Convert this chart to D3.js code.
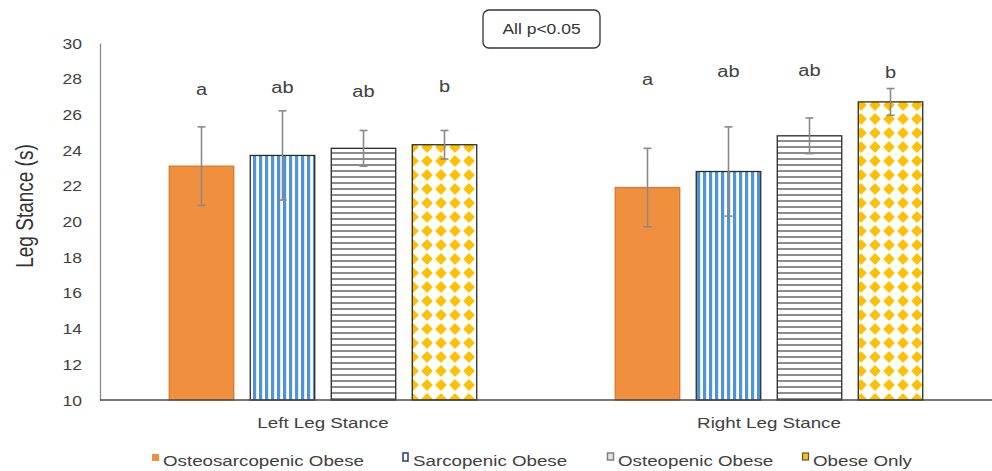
<!DOCTYPE html>
<html>
<head>
<meta charset="utf-8">
<script src="https://cdn.jsdelivr.net/npm/d3@7"></script>
<style>
  html, body { margin: 0; padding: 0; background: #ffffff; }
  svg { display: block; font-family: "Liberation Sans", Arial, sans-serif; }
</style>
</head>
<body>
<svg id="chart" width="992" height="471"></svg>
<script>
// ---------------- data ----------------
const categories = ["Left Leg Stance", "Right Leg Stance"];
const seriesNames = ["Osteosarcopenic Obese", "Sarcopenic Obese", "Osteopenic Obese", "Obese Only"];
const osteosarcopenicObese = [23.1, 21.9];
const sarcopenicObese      = [23.7, 22.8];
const osteopenicObese      = [24.1, 24.8];
const obeseOnly            = [24.3, 26.7];
const osteosarcopenicErr = [2.2, 2.2];
const sarcopenicErr      = [2.5, 2.5];
const osteopenicErr      = [1.0, 1.0];
const obeseOnlyErr       = [0.8, 0.75];
const leftLetters  = ["a", "ab", "ab", "b"];
const rightLetters = ["a", "ab", "ab", "b"];
const leftLetterAt  = [27.06, 27.2, 26.99, 27.26];
const rightLetterAt = [27.65, 28.1, 28.15, 28.04];
const yTicks = [10, 12, 14, 16, 18, 20, 22, 24, 26, 28, 30];
const yTitle = "Leg Stance (s)";
const noteText = "All p<0.05";

// -------------- build table --------------
const values = [osteosarcopenicObese, sarcopenicObese, osteopenicObese, obeseOnly];
const errs = [osteosarcopenicErr, sarcopenicErr, osteopenicErr, obeseOnlyErr];
const letters = [leftLetters, rightLetters];
const letterAt = [leftLetterAt, rightLetterAt];
const rows = [];
categories.forEach((c, ci) => {
  seriesNames.forEach((s, si) => {
    rows.push({cat: c, ci, series: s, si, v: values[si][ci], e: errs[si][ci],
               letter: letters[ci][si], la: letterAt[ci][si]});
  });
});

// -------------- layout --------------
const SX = 1.25; // horizontal stretch of the source image text
const svg = d3.select("#chart");
const x0 = d3.scaleBand().domain(categories).range([100, 992]).paddingInner(0).paddingOuter(0);
const x1 = d3.scaleBand().domain(seriesNames).range([0, x0.bandwidth()]).paddingInner(0.204).paddingOuter(0.855);
const y = d3.scaleLinear().domain([10, 30]).range([400, 43]);

// patterns
const defs = svg.append("defs");
const pBlue = defs.append("pattern").attr("id", "pBlue").attr("patternUnits", "userSpaceOnUse")
  .attr("width", 6).attr("height", 6);
pBlue.append("rect").attr("width", 6).attr("height", 6).attr("fill", "#fff");
pBlue.append("rect").attr("x", 1).attr("width", 3.2).attr("height", 6).attr("fill", "#4F95D6");

const pGray = defs.append("pattern").attr("id", "pGray").attr("patternUnits", "userSpaceOnUse")
  .attr("width", 6).attr("height", 6);
pGray.append("rect").attr("width", 6).attr("height", 6).attr("fill", "#fff");
pGray.append("rect").attr("y", 2).attr("width", 6).attr("height", 2).attr("fill", "#8c8c8c");

const pYel = defs.append("pattern").attr("id", "pYel").attr("patternUnits", "userSpaceOnUse")
  .attr("width", 14).attr("height", 14);
pYel.append("rect").attr("width", 14).attr("height", 14).attr("fill", "#fff");
pYel.append("path").attr("d", "M7,2 L12,7 L7,12 L2,7 Z").attr("fill", "#FFC000")
  .attr("stroke", "#FFC000").attr("stroke-width", 1.2).attr("stroke-linejoin", "round");

const fills = ["#F0903E", "url(#pBlue)", "url(#pGray)", "url(#pYel)"];
const strokes = ["#D9772C", "#2a2a2a", "#2a2a2a", "#2a2a2a"];

function stretch(sel, x, yy) {
  sel.attr("transform", `translate(${x},${yy}) scale(${SX},1)`);
}

// y axis
const yAxis = d3.axisLeft(y).tickValues(yTicks).tickSize(0).tickPadding(0);
const gy = svg.append("g").attr("transform", "translate(100,0)").call(yAxis);
gy.select(".domain").attr("stroke", "#8a8a8a").attr("stroke-width", 1.3);
gy.selectAll(".tick text")
  .attr("x", -18 / SX).attr("dy", "0.36em")
  .attr("transform", `scale(${SX},1)`)
  .attr("font-size", 14).attr("fill", "#404040").attr("font-family", "Liberation Sans, Arial, sans-serif");

// y title
svg.append("text")
  .attr("transform", `translate(33,206) rotate(-90) scale(1,${SX})`)
  .attr("text-anchor", "middle").attr("font-size", 19).attr("fill", "#333")
  .text(yTitle);

// bars
svg.append("g").selectAll("rect").data(rows).join("rect")
  .attr("x", d => x0(d.cat) + x1(d.series))
  .attr("y", d => y(d.v))
  .attr("width", x1.bandwidth())
  .attr("height", d => y(10) - y(d.v))
  .attr("fill", d => fills[d.si])
  .attr("stroke", d => strokes[d.si])
  .attr("stroke-width", 1.3);

// error bars
const eg = svg.append("g").attr("stroke", "#8a8a8a").attr("stroke-width", 1.6).attr("fill", "none");
rows.forEach(d => {
  const cx = x0(d.cat) + x1(d.series) + x1.bandwidth() / 2;
  const yt = y(d.v + d.e), yb = y(d.v - d.e);
  eg.append("line").attr("x1", cx).attr("x2", cx).attr("y1", yt).attr("y2", yb);
  eg.append("line").attr("x1", cx - 4).attr("x2", cx + 4).attr("y1", yt).attr("y2", yt);
  eg.append("line").attr("x1", cx - 4).attr("x2", cx + 4).attr("y1", yb).attr("y2", yb);
});

// x axis line
svg.append("line").attr("x1", 100).attr("x2", 992).attr("y1", y(10)).attr("y2", y(10))
  .attr("stroke", "#4a4a4a").attr("stroke-width", 1.3);

// category labels
categories.forEach(c => {
  svg.append("text").call(stretch, x0(c) + x0.bandwidth() / 2, 428)
    .attr("text-anchor", "middle").attr("font-size", 15).attr("fill", "#404040").text(c);
});

// significance letters
rows.forEach(d => {
  svg.append("text").call(stretch, x0(d.cat) + x1(d.series) + x1.bandwidth() / 2, y(d.la))
    .attr("text-anchor", "middle").attr("font-size", 16).attr("fill", "#404040").text(d.letter);
});

// note box
svg.append("rect").attr("x", 483).attr("y", 10).attr("width", 117).attr("height", 38)
  .attr("rx", 6).attr("fill", "#fff").attr("stroke", "#333").attr("stroke-width", 1.3);
svg.append("text").call(stretch, 541.5, 34).attr("text-anchor", "middle")
  .attr("font-size", 14).attr("fill", "#333").text(noteText);

// legend
const legendX = [150, 400, 605, 800];
const lg = svg.append("g");
seriesNames.forEach((s, i) => {
  const g = lg.append("g").attr("transform", `translate(${legendX[i]},0)`);
  if (i === 0) {
    g.append("rect").attr("x", 2).attr("y", 454).attr("width", 7).attr("height", 7).attr("fill", "#F0903E");
  } else if (i === 1) {
    g.append("rect").attr("x", 3).attr("y", 453).attr("width", 5).attr("height", 8)
      .attr("fill", "#fff").attr("stroke", "#1F3F6E").attr("stroke-width", 1.5);
  } else if (i === 2) {
    g.append("rect").attr("x", 2.5).attr("y", 453).attr("width", 6).attr("height", 7)
      .attr("fill", "#e6e6e6").attr("stroke", "#7f7f7f").attr("stroke-width", 1.5);
  } else {
    g.append("rect").attr("x", 2.5).attr("y", 453).attr("width", 6).attr("height", 7)
      .attr("fill", "#FFC000").attr("stroke", "#555").attr("stroke-width", 1.2);
  }
  g.append("text").call(stretch, 13, 466).attr("font-size", 15).attr("fill", "#404040").text(s);
});
</script>
</body>
</html>
